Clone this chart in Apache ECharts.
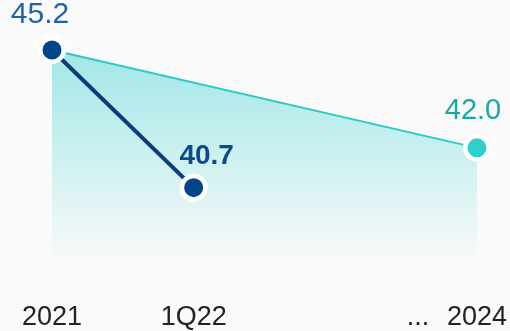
<!DOCTYPE html>
<html>
<head>
<meta charset="utf-8">
<script src="https://cdn.jsdelivr.net/npm/echarts@6/dist/echarts.min.js"></script>
<style>
  html, body { margin: 0; padding: 0; background: #fafafa; }
  #chart { width: 510px; height: 331px; }
</style>
</head>
<body>
<div id="chart"></div>
<script>
const categories = ["2021", "1Q22", "", "2024"];
const actual = [45.2, 40.7, null, null];
const target = [45.2, null, null, 42.0];

const chart = echarts.init(document.getElementById("chart"));

const option = {
  backgroundColor: "#fafafa",
  animation: false,
  grid: {
    top: 25.5,
    bottom: 72,
    left: 52,
    right: 33,
  },
  xAxis: {
    type: "category",
    boundaryGap: false,
    data: categories,
    axisLine: { show: false },
    axisTick: { show: false },
    axisLabel: {
      interval: 0,
      margin: 46,
      color: "#222",
      fontSize: 27,
      fontFamily: "Liberation Sans, Arial, sans-serif",
      // "..." sits just before the last year
      formatter: (value, idx) =>
        idx === categories.length - 1 ? "{d|...}{y|" + value + "}" : value,
      rich: {
        d: { width: 58, align: "center", fontSize: 27, color: "#222", fontFamily: "Liberation Sans, Arial, sans-serif" },
        y: { padding: [0, 58, 0, 0], fontSize: 27, color: "#222", fontFamily: "Liberation Sans, Arial, sans-serif" },
      },
    },
  },
  yAxis: {
    type: "value",
    min: 38.4,
    max: 46,
    show: false,
    splitLine: { show: false },
  },
  series: [
    {
      name: "target",
      type: "line",
      data: target,
      connectNulls: true,
      symbol: "circle",
      symbolSize: 23.5,
      itemStyle: { color: "#2ecfcc", borderColor: "#fff", borderWidth: 4.5 },
      lineStyle: { color: "#2ec9c8", width: 2 },
      areaStyle: {
        origin: "start",
        color: new echarts.graphic.LinearGradient(0, 0, 0, 1, [
          { offset: 0, color: "rgba(46,205,205,0.62)" },
          { offset: 1, color: "rgba(46,205,205,0.02)" },
        ]),
      },
      label: {
        show: true,
        position: "top",
        offset: [-4, -3],
        fontSize: 29,
        color: "#1aa8a3",
        fontFamily: "Liberation Sans, Arial, sans-serif",
        formatter: (p) => (p.dataIndex === 3 ? p.value.toFixed(1) : ""),
      },
      z: 2,
    },
    {
      name: "actual",
      type: "line",
      data: actual,
      symbol: "circle",
      symbolSize: 23.5,
      itemStyle: { color: "#00448a", borderColor: "#fff", borderWidth: 4.5 },
      lineStyle: { color: "#0d3c7c", width: 4 },
      label: {
        show: true,
        position: "top",
        fontFamily: "Liberation Sans, Arial, sans-serif",
        formatter: (p) => p.value.toFixed(1),
      },
      data: [
        { value: actual[0], label: { offset: [-12, -1], fontSize: 30, color: "#1f62a6" } },
        { value: actual[1], label: { offset: [13, 2], fontSize: 28, fontWeight: "bold", color: "#0b4a8b" } },
        actual[2],
        actual[3],
      ],
      z: 3,
    },
  ],
};

chart.setOption(option);
</script>
</body>
</html>
